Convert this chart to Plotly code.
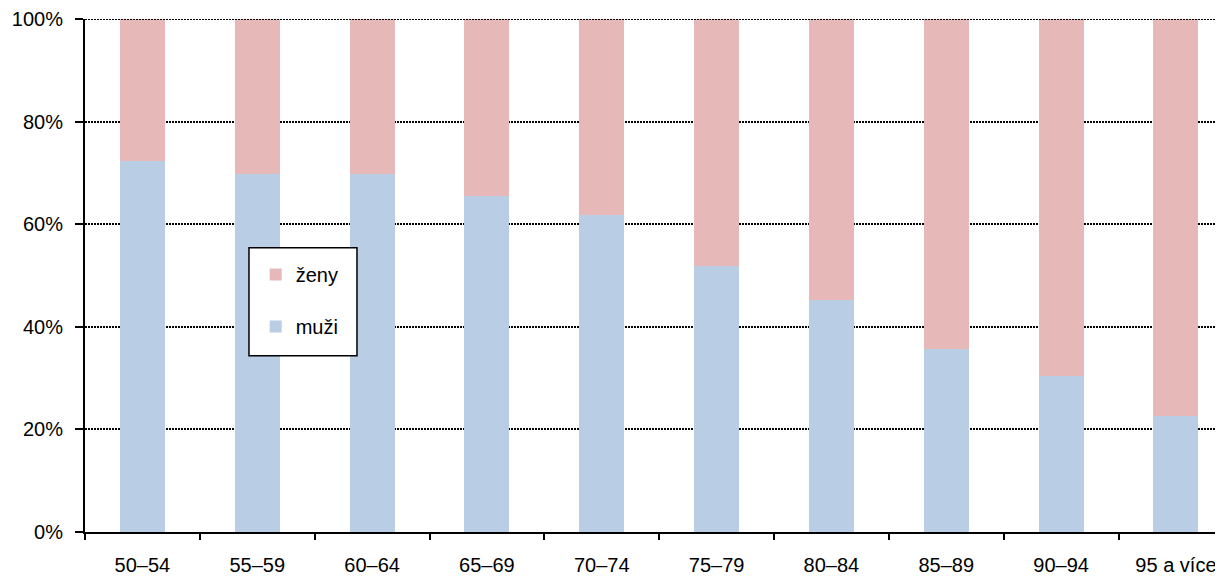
import plotly.graph_objects as go

categories = ["50–54", "55–59", "60–64", "65–69", "70–74", "75–79", "80–84", "85–89", "90–94", "95 a více"]
muzi = [72.4, 69.8, 69.7, 65.5, 61.8, 51.8, 45.3, 35.7, 30.4, 22.7]
zeny = [round(100 - v, 1) for v in muzi]

fig = go.Figure()
fig.add_trace(go.Bar(x=categories, y=muzi, name="muži", marker=dict(color="#b9cde4", line=dict(width=0)),
                     legendgroup="m", legendrank=2))
fig.add_trace(go.Bar(x=categories, y=zeny, name="ženy", marker=dict(color="#e6b8b7", line=dict(width=0)),
                     legendgroup="z", legendrank=1))

# top border line at 100 % drawn over the bars
fig.add_shape(type="line", xref="paper", yref="y", x0=0, x1=1, y0=100, y1=100,
              line=dict(color="black", width=2, dash="2px,1px"), layer="above")

# legend frame (page is offset by the 8px body margin)
fig.add_shape(type="rect", xref="paper", yref="paper", x0=0.1441, x1=0.239, y0=0.3437, y1=0.554,
              line=dict(color="black", width=1.5), fillcolor="white", layer="above")

fig.update_layout(
    width=1215, height=568,
    barmode="stack", bargap=0.608,
    plot_bgcolor="white", paper_bgcolor="white",
    margin=dict(l=77, r=0, t=11, b=43.5, autoexpand=False),
    font=dict(family="Liberation Sans, Arial", size=20, color="black"),
    legend=dict(x=0.150, y=0.540, xanchor="left", yanchor="top",
                traceorder="grouped", tracegroupgap=23,
                borderwidth=0, bgcolor="rgba(0,0,0,0)",
                font=dict(size=20), itemwidth=30),
    xaxis=dict(range=[-0.5, 9.41], showline=True, linecolor="black", linewidth=2,
               ticks="outside", tickson="boundaries", ticklen=6, tickwidth=2, tickcolor="black",
               ticklabelstandoff=14,
               showgrid=False, tickfont=dict(size=20), automargin=False),
    yaxis=dict(range=[0, 100], showline=True, linecolor="black", linewidth=2,
               ticks="outside", ticklen=8, tickwidth=2, tickcolor="black",
               ticklabelstandoff=8,
               tickvals=[0, 20, 40, 60, 80, 100], ticktext=["0%", "20%", "40%", "60%", "80%", "100%"],
               showgrid=True, gridcolor="black", griddash="2px,1px", gridwidth=2,
               zeroline=False, tickfont=dict(size=20), automargin=False),
)

fig.write_html("out.html")
